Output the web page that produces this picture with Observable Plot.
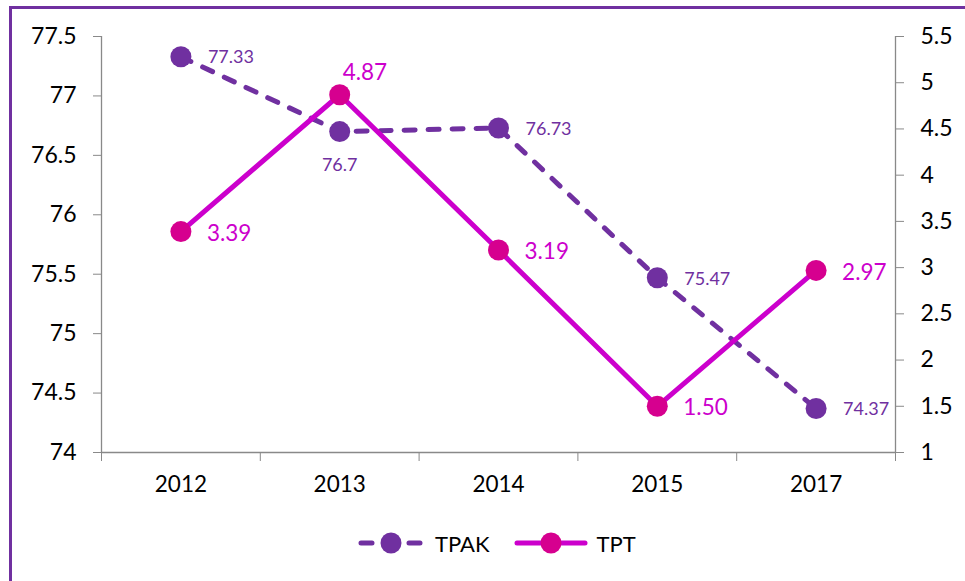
<!DOCTYPE html>
<html>
<head>
<meta charset="utf-8">
<script src="https://cdn.jsdelivr.net/npm/d3@7"></script>
<script src="https://cdn.jsdelivr.net/npm/@observablehq/plot@0.6"></script>
<style>
  html, body { margin: 0; padding: 0; background: #fff; }
  body { width: 965px; height: 581px; overflow: hidden; position: relative; font-family: Lato, "Open Sans", sans-serif; }
  #frame { position: absolute; left: 9px; top: 6px; width: 1000px; height: 1000px; border: 3.5px solid #7030A0; box-sizing: border-box; }
  #chart { position: absolute; left: 0; top: 0; }
  #legend { position: absolute; left: 356px; top: 528px; display: flex; align-items: center; font-size: 22px; color: #000; }
  #legend .item { display: flex; align-items: center; }
  #legend svg { display: block; }
</style>
</head>
<body>
<div id="frame"></div>
<div id="chart"></div>
<div id="legend"></div>
<script>
const years = ["2012", "2013", "2014", "2015", "2017"];
const tpak = [77.33, 76.7, 76.73, 75.47, 74.37];
const tpt = [3.39, 4.87, 3.19, 1.50, 2.97];
const leftTicks = [74, 74.5, 75, 75.5, 76, 76.5, 77, 77.5];
const rightTicks = [1, 1.5, 2, 2.5, 3, 3.5, 4, 4.5, 5, 5.5];
const seriesNames = ["TPAK", "TPT"];

const PURPLE = "#7030A0";
const MAGENTA = "#CC00CC";
const ROSE = "#D6008F";
const AXIS = "#898989";

const leftDomain = [74, 77.5];
const rightDomain = [1, 5.5];
const toLeft = v => leftDomain[0] + (v - rightDomain[0]) * (leftDomain[1] - leftDomain[0]) / (rightDomain[1] - rightDomain[0]);
const fromLeft = v => rightDomain[0] + (v - leftDomain[0]) * (rightDomain[1] - rightDomain[0]) / (leftDomain[1] - leftDomain[0]);

const rows = years.map((year, i) => ({i, year, tpak: tpak[i], tpt: tpt[i], tptL: toLeft(tpt[i])}));
const centers = d3.range(years.length);
const bounds = d3.range(years.length + 1).map(k => k - 0.5);

const chart = Plot.plot({
  width: 965,
  height: 500,
  marginTop: 36,
  marginBottom: 48,
  marginLeft: 101,
  marginRight: 70,
  style: {fontFamily: "Lato, 'Open Sans', sans-serif", background: "transparent", overflow: "visible"},
  x: {domain: [-0.5, years.length - 0.5], axis: null},
  y: {domain: leftDomain, axis: null},
  marks: [
    Plot.ruleX([-0.5], {stroke: AXIS, strokeWidth: 1.3}),
    Plot.ruleX([years.length - 0.5], {stroke: AXIS, strokeWidth: 1.3}),
    Plot.ruleY([leftDomain[0]], {stroke: AXIS, strokeWidth: 1.3}),
    Plot.axisY(leftTicks, {anchor: "left", tickSize: 8, tickPadding: 17, fontSize: 23, stroke: AXIS, fill: "#000", tickFormat: d => String(d), label: null}),
    Plot.axisY(rightTicks.map(toLeft), {anchor: "right", tickSize: 8, tickPadding: 17, fontSize: 23, stroke: AXIS, fill: "#000", tickFormat: d => String(Math.round(fromLeft(d) * 10) / 10), label: null}),
    Plot.axisX(bounds, {anchor: "bottom", tickSize: 9, stroke: AXIS, tickFormat: () => "", label: null}),
    Plot.axisX(centers, {anchor: "bottom", tickSize: 0, tickPadding: 24, fontSize: 22.5, fill: "#000", tickFormat: i => years[i], label: null}),
    Plot.line(rows, {x: "i", y: "tpak", stroke: PURPLE, strokeWidth: 5, strokeDasharray: "11,13", strokeLinecap: "round"}),
    Plot.dot(rows, {x: "i", y: "tpak", r: 10.5, fill: PURPLE, stroke: "none"}),
    Plot.line(rows, {x: "i", y: "tptL", stroke: MAGENTA, strokeWidth: 5}),
    Plot.dot(rows, {x: "i", y: "tptL", r: 10.5, fill: ROSE, stroke: "none"}),
    Plot.text(rows, {filter: d => d.year !== "2013", x: "i", y: "tpak", text: d => String(d.tpak), textAnchor: "start", dx: 27, dy: 1, fontSize: 18, fill: PURPLE}),
    Plot.text(rows, {filter: d => d.year === "2013", x: "i", y: "tpak", text: d => String(d.tpak), textAnchor: "middle", dy: 34, fontSize: 18, fill: PURPLE}),
    Plot.text(rows, {filter: d => d.year !== "2013", x: "i", y: "tptL", text: d => d3.format(".2f")(d.tpt), textAnchor: "start", dx: 26, dy: 2, fontSize: 22.5, fill: MAGENTA}),
    Plot.text(rows, {filter: d => d.year === "2013", x: "i", y: "tptL", text: d => d3.format(".2f")(d.tpt), textAnchor: "start", dx: 3, dy: -22, fontSize: 22.5, fill: MAGENTA})
  ]
});
document.getElementById("chart").appendChild(chart);

// Legend
const legend = document.getElementById("legend");
const legendDefs = [
  {name: seriesNames[0], line: PURPLE, dot: PURPLE, dash: "11,13", width: 5, sw: 70},
  {name: seriesNames[1], line: MAGENTA, dot: ROSE, dash: null, width: 5, sw: 74}
];
legendDefs.forEach((def, k) => {
  const item = document.createElement("div");
  item.className = "item";
  item.style.marginRight = k === 0 ? "24px" : "0";
  const w = def.sw, h = 30;
  const svg = d3.create("svg").attr("width", w).attr("height", h);
  const ln = svg.append("line").attr("x1", 3).attr("x2", w - 3).attr("y1", h / 2).attr("y2", h / 2)
    .attr("stroke", def.line).attr("stroke-width", def.width).attr("stroke-linecap", "round");
  if (def.dash) ln.attr("stroke-dasharray", def.dash).attr("stroke-dashoffset", -2);
  svg.append("circle").attr("cx", w / 2).attr("cy", h / 2).attr("r", 10.5).attr("fill", def.dot);
  item.appendChild(svg.node());
  const label = document.createElement("span");
  label.textContent = def.name;
  label.style.marginLeft = "9px";
  item.appendChild(label);
  legend.appendChild(item);
});
</script>
</body>
</html>
